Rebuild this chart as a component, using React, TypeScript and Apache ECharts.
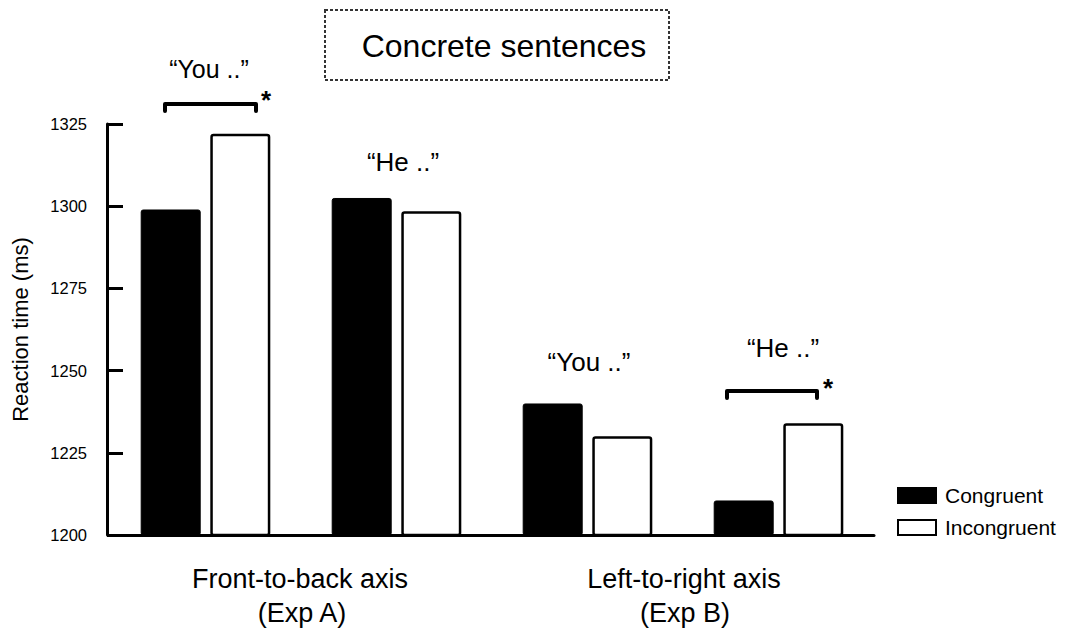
import React, { useEffect, useRef } from "react";
import * as echarts from "echarts";

const categories = ["You-A", "He-A", "You-B", "He-B"];
const congruent = [1299, 1302.5, 1240, 1210.5];
const incongruent = [1322, 1298.5, 1230, 1234];
const yTicks = { min: 1200, max: 1325, interval: 25 };
const groupLabels = [
  { line1: "Front-to-back axis", line2: "(Exp A)" },
  { line1: "Left-to-right axis", line2: "(Exp B)" },
];
const annotationTexts = ["\u201CYou ..\u201D", "\u201CHe ..\u201D", "\u201CYou ..\u201D", "\u201CHe ..\u201D"];

const FONT = "'Liberation Sans', Arial, Helvetica, sans-serif";

export default function App() {
  const ref = useRef<HTMLDivElement>(null);
  useEffect(() => {
    if (!ref.current) return;
    const chart = echarts.init(ref.current, null, { renderer: "svg" });
    const txt = (text: string, x: number, y: number, size: number, extra: any = {}) => ({
      type: "text",
      x,
      y,
      style: {
        text,
        fontSize: size,
        fontFamily: FONT,
        fill: "#000",
        align: "center",
        verticalAlign: "middle",
        ...extra,
      },
    });
    const bracket = (x1: number, x2: number, y: number) => ({
      type: "polyline",
      shape: { points: [[x1, y + 7], [x1, y], [x2, y], [x2, y + 7]] },
      style: { stroke: "#000", lineWidth: 4, fill: "none", lineJoin: "round", lineCap: "round" },
    });
    chart.setOption({
      animation: false,
      backgroundColor: "#fff",
      textStyle: { fontFamily: FONT, color: "#000" },
      grid: { left: 110, right: 199, top: 124, bottom: 98, containLabel: false },
      legend: {
        orient: "vertical",
        left: 892,
        top: 480,
        itemWidth: 38,
        itemHeight: 15,
        itemGap: 11,
        icon: "rect",
        textStyle: { fontSize: 21, fontFamily: FONT, color: "#000", padding: [0, 0, 0, 4] },
        data: ["Congruent", "Incongruent"],
      },
      xAxis: {
        type: "category",
        data: categories,
        axisLine: { show: true, lineStyle: { color: "#000", width: 3 } },
        axisTick: { show: false },
        axisLabel: { show: false },
      },
      yAxis: {
        type: "value",
        min: yTicks.min,
        max: yTicks.max,
        interval: yTicks.interval,
        offset: 3,
        name: "Reaction time (ms)",
        nameLocation: "middle",
        nameRotate: 90,
        nameGap: 76,
        nameTextStyle: { fontSize: 22, fontFamily: FONT, color: "#000" },
        axisLine: { show: true, lineStyle: { color: "#000", width: 3 } },
        axisTick: { show: true, inside: true, length: 16, lineStyle: { color: "#000", width: 3 } },
        axisLabel: {
          fontSize: 16.5,
          fontFamily: FONT,
          color: "#000",
          margin: 20,
          formatter: (v: number) => String(v),
        },
        splitLine: { show: false },
      },
      series: [
        {
          name: "Congruent",
          type: "bar",
          data: congruent,
          barWidth: 60,
          barGap: "16%",
          itemStyle: { color: "#000", borderColor: "#000", borderWidth: 1, borderRadius: 2 },
        },
        {
          name: "Incongruent",
          type: "bar",
          data: incongruent,
          barWidth: 60,
          barGap: "16%",
          itemStyle: { color: "#fff", borderColor: "#000", borderWidth: 2.5, borderRadius: 2 },
        },
      ],
      graphic: [
        {
          type: "rect",
          shape: { x: 325, y: 10, width: 344, height: 70 },
          style: { fill: "#fff", stroke: "#333", lineWidth: 2, lineDash: [3, 2] },
        },
        txt("Concrete sentences", 504, 46, 32),
        txt(annotationTexts[0], 209, 69, 25),
        bracket(165, 256, 104),
        txt("*", 266, 87, 26, { verticalAlign: "top", fontWeight: "bold" }),
        txt(annotationTexts[1], 403, 162, 26),
        txt(annotationTexts[2], 589, 362, 26),
        txt(annotationTexts[3], 783, 348, 26),
        bracket(727, 817, 391),
        txt("*", 828, 375, 26, { verticalAlign: "top", fontWeight: "bold" }),
        txt(groupLabels[0].line1, 300, 579, 27),
        txt(groupLabels[0].line2, 302, 613, 27),
        txt(groupLabels[1].line1, 684, 579, 27),
        txt(groupLabels[1].line2, 685, 613, 27),
      ],
    });
    return () => chart.dispose();
  }, []);
  return (
    <div
      ref={ref}
      style={{ position: "fixed", left: 0, top: 0, width: 1073, height: 633, background: "#fff" }}
    />
  );
}
